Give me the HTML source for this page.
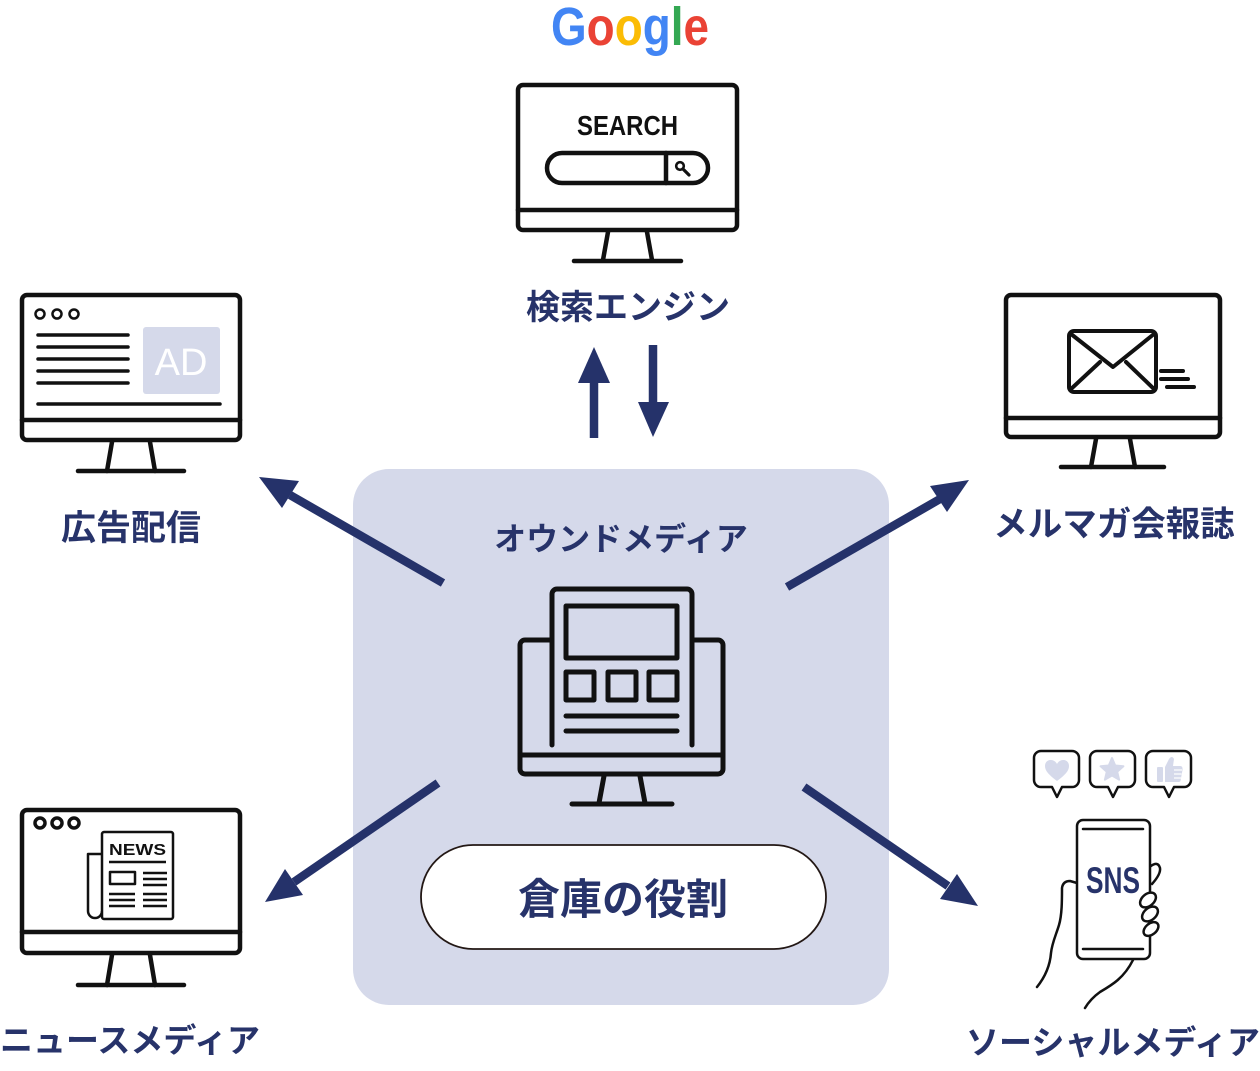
<!DOCTYPE html>
<html><head><meta charset="utf-8"><style>
html,body{margin:0;padding:0;background:#fff;}
svg{display:block;}
.jp{font-family:"Liberation Sans","Noto Sans CJK JP",sans-serif;font-weight:700;fill:#27336a;}
</style></head><body>
<svg width="1260" height="1071" viewBox="0 0 1260 1071" xmlns="http://www.w3.org/2000/svg">
<!-- center box -->
<rect x="353" y="469" width="536" height="536" rx="36" fill="#d5d9ea"/>

<!-- Google -->
<text x="551" y="45" font-family="Liberation Sans, sans-serif" font-weight="700" font-size="54" textLength="158" lengthAdjust="spacingAndGlyphs"><tspan fill="#4285F4">G</tspan><tspan fill="#EA4335">o</tspan><tspan fill="#FBBC05">o</tspan><tspan fill="#4285F4">g</tspan><tspan fill="#34A853">l</tspan><tspan fill="#EA4335">e</tspan></text>

<g fill="none" stroke="#111" stroke-width="4.5" stroke-linecap="round" stroke-linejoin="round">
<!-- search monitor -->
<rect x="518" y="85" width="219" height="145" rx="5"/>
<line x1="518" y1="210" x2="737" y2="210"/>
<polyline points="608,232 603,260"/><polyline points="647,232 652,260"/>
<line x1="574" y1="261" x2="681" y2="261"/>
<rect x="547" y="153" width="161" height="30" rx="15"/>
<line x1="666" y1="153" x2="666" y2="183"/>
<!-- AD monitor -->
<rect x="22" y="295" width="218" height="145" rx="5"/>
<line x1="22" y1="420" x2="240" y2="420"/>
<polyline points="112,442 107,471"/><polyline points="150,442 155,471"/>
<line x1="78" y1="471" x2="184" y2="471"/>
<!-- mail monitor -->
<rect x="1006" y="295" width="214" height="142" rx="5"/>
<line x1="1006" y1="418" x2="1220" y2="418"/>
<polyline points="1096,439 1091,467"/><polyline points="1130,439 1135,467"/>
<line x1="1061" y1="467" x2="1164" y2="467"/>
<!-- news monitor -->
<rect x="22" y="810" width="218" height="143" rx="5"/>
<line x1="22" y1="932" x2="240" y2="932"/>
<polyline points="112,955 107,985"/><polyline points="150,955 155,985"/>
<line x1="78" y1="985" x2="184" y2="985"/>
</g>

<!-- search text and magnifier -->
<text x="577" y="135" font-family="Liberation Sans, sans-serif" font-weight="700" font-size="28" textLength="101" lengthAdjust="spacingAndGlyphs" fill="#111">SEARCH</text>
<circle cx="680" cy="166" r="3.8" fill="none" stroke="#111" stroke-width="2.6"/>
<line x1="683" y1="169" x2="689" y2="175" stroke="#111" stroke-width="3.2" stroke-linecap="round"/>

<!-- AD monitor contents -->
<g fill="none" stroke="#111" stroke-width="2.5">
<circle cx="40" cy="314" r="4.5"/><circle cx="57" cy="314" r="4.5"/><circle cx="74" cy="314" r="4.5"/>
</g>
<g stroke="#111" stroke-width="3.5" stroke-linecap="round">
<line x1="38" y1="335" x2="128" y2="335"/><line x1="38" y1="347" x2="128" y2="347"/>
<line x1="38" y1="359" x2="128" y2="359"/><line x1="38" y1="371" x2="128" y2="371"/>
<line x1="38" y1="383" x2="128" y2="383"/><line x1="38" y1="404" x2="220" y2="404"/>
</g>
<rect x="143" y="327" width="77" height="67" rx="3" fill="#d5d9ea"/>
<text x="181" y="375" text-anchor="middle" font-family="Liberation Sans, sans-serif" font-size="38" fill="#fff">AD</text>

<!-- mail contents -->
<g fill="none" stroke="#111" stroke-width="4" stroke-linecap="round" stroke-linejoin="round">
<rect x="1069" y="331" width="87" height="61" rx="5"/>
<polyline points="1071,334 1113,367 1154,334"/>
<line x1="1071" y1="389" x2="1100" y2="362"/>
<line x1="1154" y1="389" x2="1126" y2="362"/>
<line x1="1161" y1="371" x2="1183" y2="371"/>
<line x1="1161" y1="379" x2="1188" y2="379"/>
<line x1="1167" y1="387" x2="1194" y2="387"/>
</g>

<!-- news contents -->
<g fill="none" stroke="#111" stroke-width="3.5">
<circle cx="40" cy="823" r="5"/><circle cx="57" cy="823" r="5"/><circle cx="74" cy="823" r="5"/>
</g>
<g fill="none" stroke="#111" stroke-width="2.5" stroke-linejoin="round">
<path d="M102,854 H88 V911 A7,7 0 0 0 102,911"/>
<rect x="102" y="832" width="71" height="87" rx="2" fill="#fff"/>
<line x1="109" y1="862" x2="166" y2="862"/>
<rect x="110" y="872" width="25" height="12"/>
<line x1="143" y1="873" x2="167" y2="873"/><line x1="143" y1="879" x2="167" y2="879"/><line x1="143" y1="885" x2="167" y2="885"/>
<line x1="109" y1="894" x2="135" y2="894"/><line x1="143" y1="894" x2="167" y2="894"/>
<line x1="109" y1="900" x2="135" y2="900"/><line x1="143" y1="900" x2="167" y2="900"/>
<line x1="109" y1="906" x2="135" y2="906"/><line x1="143" y1="906" x2="167" y2="906"/>
</g>
<text x="109" y="855" font-family="Liberation Sans, sans-serif" font-weight="700" font-size="16" textLength="57" lengthAdjust="spacingAndGlyphs" fill="#111">NEWS</text>

<!-- center monitor -->
<g fill="none" stroke="#111" stroke-width="5" stroke-linecap="round" stroke-linejoin="round">
<rect x="520" y="640" width="203" height="134" rx="5"/>
<line x1="520" y1="755" x2="723" y2="755"/>
<polyline points="604,776 599,803"/><polyline points="640,776 645,803"/>
<line x1="572" y1="804" x2="672" y2="804"/>
<path d="M552,745 V594 a5,5 0 0 1 5,-5 H687 a5,5 0 0 1 5,5 V745" fill="#d5d9ea"/>
<rect x="566" y="606" width="111" height="52"/>
<rect x="566" y="672" width="28" height="28"/>
<rect x="608" y="672" width="28" height="28"/>
<rect x="649" y="672" width="28" height="28"/>
<line x1="566" y1="716" x2="677" y2="716"/>
<line x1="566" y1="731" x2="677" y2="731"/>
</g>

<!-- oval -->
<rect x="421" y="845" width="405" height="104" rx="52" fill="#fff" stroke="#231815" stroke-width="1.8"/>
<text class="jp" x="623" y="914" text-anchor="middle" font-size="42">倉庫の役割</text>
<text class="jp" x="621" y="550" text-anchor="middle" font-size="32">オウンドメディア</text>

<!-- arrows -->
<g stroke="#25326a" stroke-width="8.5">
<line x1="594" y1="438" x2="594" y2="380"/>
<line x1="653" y1="345" x2="653" y2="404"/>
<line x1="443" y1="583" x2="290" y2="495"/>
<line x1="787" y1="587" x2="940" y2="499"/>
<line x1="438" y1="783" x2="294" y2="882"/>
<line x1="804" y1="787" x2="948" y2="886"/>
</g>
<g fill="#25326a">
<polygon points="594,347 578,383 610,383"/>
<polygon points="638,402 669,402 653,437"/>
<polygon points="259,477 299,481 282,508"/>
<polygon points="969,480 930,486 947,512"/>
<polygon points="265,902 285,869 303,895"/>
<polygon points="978,906 957,874 940,899"/>
</g>

<!-- SNS bubbles -->
<g fill="#fff" stroke="#111" stroke-width="2.5" stroke-linejoin="round">
<path d="M1041,751 H1072 a7,7 0 0 1 7,7 V780 a7,7 0 0 1 -7,7 H1062 L1057,797 L1052,787 H1041 a7,7 0 0 1 -7,-7 V758 a7,7 0 0 1 7,-7 Z"/>
<path d="M1097,751 H1128 a7,7 0 0 1 7,7 V780 a7,7 0 0 1 -7,7 H1118 L1113,797 L1108,787 H1097 a7,7 0 0 1 -7,-7 V758 a7,7 0 0 1 7,-7 Z"/>
<path d="M1153,751 H1184 a7,7 0 0 1 7,7 V780 a7,7 0 0 1 -7,7 H1174 L1169,797 L1164,787 H1153 a7,7 0 0 1 -7,-7 V758 a7,7 0 0 1 7,-7 Z"/>
</g>
<path d="M1057,781 C1049,775 1045,771 1045,766 C1045,759 1054,758 1057,764 C1060,758 1069,759 1069,766 C1069,771 1065,775 1057,781 Z" fill="#d5d9ea"/>
<polygon points="1112,758 1115.2,765.5 1123.4,766.3 1117.2,771.7 1119.1,779.7 1112,775.5 1104.9,779.7 1106.8,771.7 1100.6,766.3 1108.8,765.5" fill="#d5d9ea" stroke="#d5d9ea" stroke-width="2" stroke-linejoin="round"/>
<g fill="#d5d9ea">
<rect x="1157" y="767" width="6" height="15" rx="1"/>
<path d="M1165,767 L1169,759 Q1172,755 1174,759 L1173,766 H1180 Q1183,766 1182.5,770 L1180.5,781 Q1180,782 1178,782 H1165 Z"/>
</g>
<g stroke="#fff" stroke-width="1.2">
<line x1="1174" y1="770" x2="1182" y2="770"/><line x1="1174" y1="774" x2="1181.5" y2="774"/><line x1="1174" y1="778" x2="1181" y2="778"/>
</g>

<!-- phone and hand -->
<g fill="none" stroke="#111" stroke-width="2.5" stroke-linecap="round" stroke-linejoin="round">
<path d="M1037,987 C1045,977 1050,966 1051,953 C1052,943 1056,935 1059,925 C1062,915 1062,900 1062,888 Q1063,881 1070,881 L1077,883"/>
<path d="M1133,960 C1124,978 1112,985 1100,992 C1093,997 1088,1003 1085,1008"/>
<rect x="1077" y="820" width="73" height="139" rx="6" fill="#fff"/>
<line x1="1083" y1="829" x2="1143" y2="829"/>
<line x1="1083" y1="949" x2="1143" y2="949"/>
<path d="M1151,866 Q1158,861 1160,868 Q1161,874 1152,884"/>
<ellipse cx="1148" cy="900" rx="9" ry="6" transform="rotate(-40 1148 900)" fill="#fff"/>
<ellipse cx="1150" cy="914" rx="9" ry="6" transform="rotate(-40 1150 914)" fill="#fff"/>
<ellipse cx="1151" cy="929" rx="8.5" ry="5.5" transform="rotate(-40 1151 929)" fill="#fff"/>
</g>
<text x="1086" y="893" font-family="Liberation Sans, sans-serif" font-weight="700" font-size="37" textLength="54" lengthAdjust="spacingAndGlyphs" fill="#27336a">SNS</text>

<!-- labels -->
<text class="jp" x="628" y="319" text-anchor="middle" font-size="34">検索エンジン</text>
<text class="jp" x="131" y="540" text-anchor="middle" font-size="35">広告配信</text>
<text class="jp" x="1114" y="536" text-anchor="middle" font-size="34.5">メルマガ会報誌</text>
<text class="jp" x="130" y="1052" text-anchor="middle" font-size="33">ニュースメディア</text>
<text class="jp" x="1113" y="1054" text-anchor="middle" font-size="33">ソーシャルメディア</text>
</svg>
</body></html>
